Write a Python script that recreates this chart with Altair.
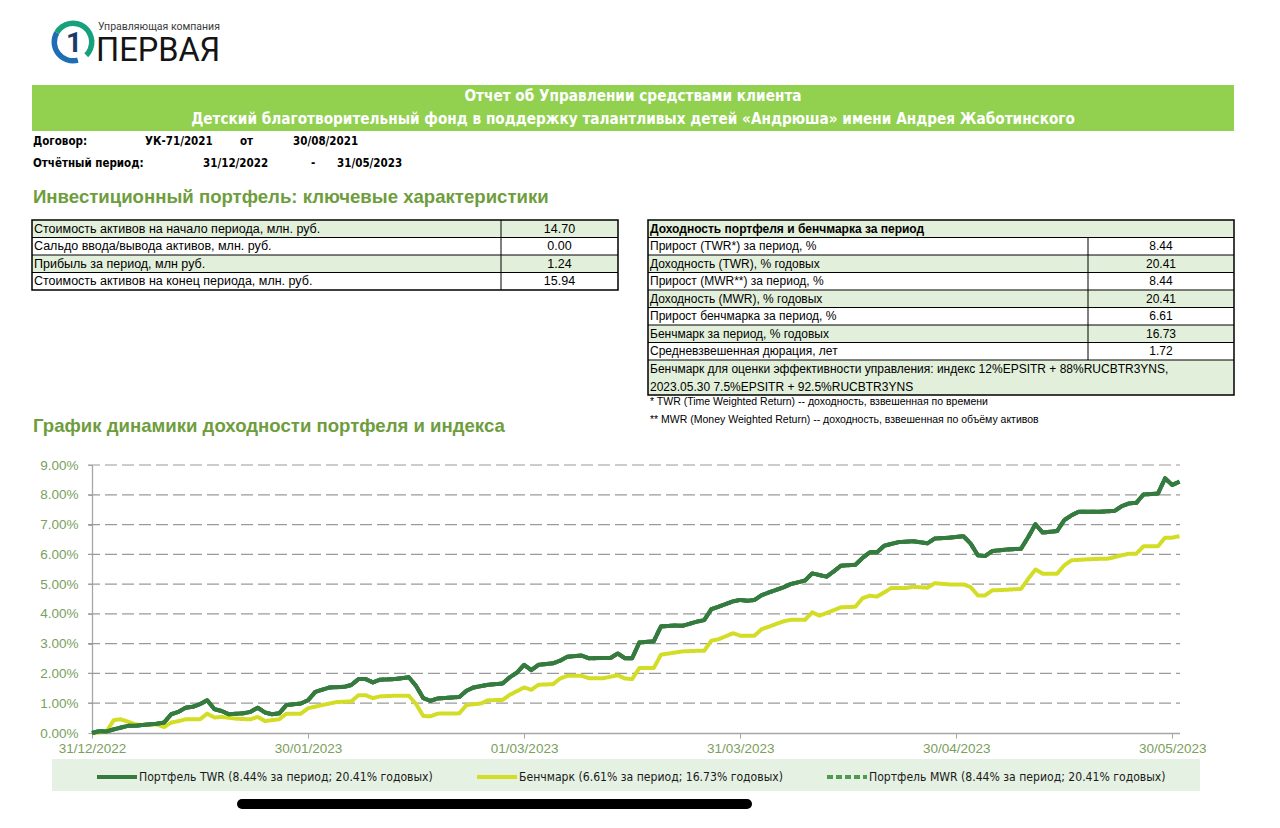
import altair as alt
import pandas as pd

# ------------------------------------------------------------------ data
START = "2022-12-31"  # day 0 of the report period (offsets below are days since this date)

twr_day = [0, 1, 2, 3, 5, 6, 7, 9, 10, 11, 12, 13, 14, 15, 16, 17, 18, 19, 21, 22, 23, 24, 25, 26, 27,
           29, 30, 31, 33, 35, 36, 37, 38, 39, 40, 42, 44, 45, 46, 47, 48, 51, 52, 53, 55, 57, 58, 59, 60,
           61, 62, 64, 65, 66, 68, 69, 71, 72, 73, 74, 75, 76, 78, 79, 81, 82, 84, 85, 86, 87, 89, 90, 91,
           92, 93, 94, 96, 97, 98, 99, 100, 102, 103, 104, 106, 107, 108, 109, 110, 112, 114, 116, 117,
           119, 121, 122, 123, 124, 125, 127, 129, 130, 131, 132, 134, 135, 136, 137, 140, 142, 143, 144,
           145, 146, 148, 149, 150, 151]
twr_pct = [0.00, 0.06, 0.05, 0.12, 0.24, 0.24, 0.27, 0.31, 0.35, 0.63, 0.71, 0.85, 0.88, 0.97, 1.10, 0.80,
           0.74, 0.63, 0.66, 0.71, 0.85, 0.69, 0.63, 0.66, 0.94, 0.99, 1.10, 1.38, 1.53, 1.55, 1.61, 1.81,
           1.81, 1.70, 1.79, 1.81, 1.87, 1.58, 1.17, 1.08, 1.16, 1.21, 1.42, 1.53, 1.62, 1.66, 1.87, 2.03,
           2.29, 2.11, 2.29, 2.34, 2.43, 2.56, 2.60, 2.51, 2.52, 2.52, 2.67, 2.51, 2.51, 3.04, 3.08, 3.58,
           3.61, 3.60, 3.74, 3.79, 4.16, 4.24, 4.42, 4.47, 4.44, 4.47, 4.63, 4.72, 4.89, 5.00, 5.06, 5.12,
           5.36, 5.25, 5.43, 5.62, 5.65, 5.88, 6.07, 6.07, 6.29, 6.41, 6.44, 6.37, 6.53, 6.56, 6.61, 6.36,
           5.97, 5.94, 6.11, 6.16, 6.19, 6.58, 7.01, 6.73, 6.78, 7.15, 7.31, 7.43, 7.43, 7.46, 7.62, 7.71,
           7.73, 8.01, 8.04, 8.55, 8.33, 8.44]

bench_day = [0, 2, 3, 4, 5, 6, 7, 9, 10, 11, 12, 13, 15, 16, 17, 18, 20, 22, 23, 24, 25, 26, 27, 29, 30,
             32, 34, 36, 37, 38, 39, 40, 42, 44, 45, 46, 47, 48, 51, 52, 54, 55, 57, 58, 60, 61, 62, 64, 65,
             66, 68, 69, 71, 73, 74, 75, 76, 78, 79, 82, 84, 85, 86, 87, 89, 90, 92, 93, 94, 96, 97, 99, 100,
             101, 102, 104, 106, 107, 108, 109, 111, 113, 114, 116, 117, 119, 121, 122, 123, 124, 125, 127,
             129, 130, 131, 132, 134, 135, 136, 138, 140, 141, 143, 144, 145, 146, 148, 149, 150, 151]
bench_pct = [0.00, 0.04, 0.43, 0.46, 0.38, 0.29, 0.27, 0.29, 0.20, 0.35, 0.40, 0.46, 0.46, 0.65, 0.52, 0.54,
             0.48, 0.46, 0.54, 0.40, 0.43, 0.46, 0.65, 0.65, 0.83, 0.94, 1.04, 1.06, 1.27, 1.27, 1.17, 1.23,
             1.25, 1.25, 0.97, 0.57, 0.56, 0.65, 0.66, 0.94, 0.99, 1.10, 1.11, 1.28, 1.53, 1.45, 1.62, 1.64,
             1.83, 1.92, 1.92, 1.84, 1.84, 1.94, 1.83, 1.81, 2.18, 2.18, 2.63, 2.74, 2.76, 2.76, 3.10, 3.15,
             3.35, 3.27, 3.27, 3.49, 3.57, 3.75, 3.80, 3.80, 4.05, 3.94, 4.03, 4.22, 4.24, 4.53, 4.61, 4.58,
             4.87, 4.87, 4.91, 4.88, 5.03, 4.99, 4.99, 4.90, 4.62, 4.62, 4.79, 4.81, 4.84, 5.18, 5.49, 5.35,
             5.35, 5.63, 5.80, 5.83, 5.85, 5.85, 5.97, 6.02, 6.02, 6.27, 6.27, 6.56, 6.56, 6.61]

# MWR coincides with TWR over the period (8.44% / 20.41%)
mwr_day = twr_day
mwr_pct = twr_pct

series_names = [
    "Портфель TWR (8.44% за период; 20.41% годовых)",
    "Бенчмарк (6.61% за период; 16.73% годовых)",
    "Портфель MWR (8.44% за период; 20.41% годовых)",
]
series_colors = ["#357A3E", "#D3DD26", "#4E9A4E"]
series_dash = [[1, 0], [1, 0], [6, 3]]

x_tick_dates = [(2022, 12, 31), (2023, 1, 30), (2023, 3, 1), (2023, 3, 31), (2023, 4, 30), (2023, 5, 30)]
x_end_date = (2023, 5, 31)
y_ticks = [0, 1, 2, 3, 4, 5, 6, 7, 8, 9]

logo_small = "Управляющая компания"
logo_big = "ПЕРВАЯ"
report_title = "Отчет об Управлении средствами клиента"
client_name = "Детский благотворительный фонд в поддержку талантливых детей «Андрюша» имени Андрея Жаботинского"
contract_row = ["Договор:", "УК-71/2021", "от", "30/08/2021"]
period_row = ["Отчётный период:", "31/12/2022", "-", "31/05/2023"]
portfolio_title = "Инвестиционный портфель: ключевые характеристики"
assets_labels = [
    "Стоимость активов на начало периода, млн. руб.",
    "Сальдо ввода/вывода активов, млн. руб.",
    "Прибыль  за период, млн руб.",
    "Стоимость активов на конец периода, млн. руб.",
]
assets_values = ["14.70", "0.00", "1.24", "15.94"]
returns_header = "Доходность портфеля и бенчмарка за период"
returns_labels = [
    "Прирост (TWR*) за период, %",
    "Доходность (TWR), % годовых",
    "Прирост (MWR**) за период, %",
    "Доходность (MWR), % годовых",
    "Прирост бенчмарка за период, %",
    "Бенчмарк за период, % годовых",
    "Средневзвешенная дюрация, лет",
]
returns_values = ["8.44", "20.41", "8.44", "20.41", "6.61", "16.73", "1.72"]
benchmark_note = [
    "Бенчмарк для оценки эффективности управления: индекс 12%EPSITR + 88%RUCBTR3YNS,",
    "2023.05.30 7.5%EPSITR + 92.5%RUCBTR3YNS",
]
footnotes = [
    "* TWR (Time Weighted Return) -- доходность, взвешенная по времени",
    "** MWR (Money Weighted Return) -- доходность, взвешенная по объёму активов",
]
chart_title = "График динамики доходности портфеля и индекса"

# ------------------------------------------------------------------ layout / style
W, H = 1264, 812
OFF = 8  # page margin


def px(x):
    return x - OFF


def py(y):
    return y - OFF


FONT = "'Liberation Sans', Arial, sans-serif"
NARROW = "'DejaVu Sans Condensed', 'Liberation Sans', sans-serif"
LOGO_FONT = "Roboto, 'Open Sans', sans-serif"
GREEN_TITLE = "#6E9D3E"
AXIS_GREEN = "#79A05C"
BAND = "#92D050"
ROW_FILL = "#E2EFDA"
AXIS_GRAY = "#A6A6A6"
GRID_GRAY = "#9A9A9A"

one = pd.DataFrame({"k": [0]})


def text(s, x, y, size=12, bold=False, color="#000000", align="left", font=FONT):
    return alt.Chart(one).mark_text(
        text=s, align=align, baseline="middle", fontSize=size,
        fontWeight="bold" if bold else "normal", color=color, font=font,
    ).encode(x=alt.value(px(x)), y=alt.value(py(y)))


def rect(x1, y1, x2, y2, fill):
    return alt.Chart(one).mark_rect(fill=fill).encode(
        x=alt.value(px(x1)), x2=alt.value(px(x2)), y=alt.value(py(y1)), y2=alt.value(py(y2)))


def frame_rect(x1, y1, x2, y2, width=1.5):
    return alt.Chart(one).mark_rect(fill="transparent", stroke="#000000", strokeWidth=width).encode(
        x=alt.value(px(x1)), x2=alt.value(px(x2)), y=alt.value(py(y1)), y2=alt.value(py(y2)))


def hline(x1, x2, y, color="#000000", width=1.0, cap="butt"):
    return alt.Chart(one).mark_rule(color=color, strokeWidth=width, strokeCap=cap).encode(
        x=alt.value(px(x1)), x2=alt.value(px(x2)), y=alt.value(py(y)))


def vline(x, y1, y2, color="#000000", width=1.0):
    return alt.Chart(one).mark_rule(color=color, strokeWidth=width).encode(
        x=alt.value(px(x)), y=alt.value(py(y1)), y2=alt.value(py(y2)))


def arc(cx, cy, r1, r2, t1, t2, color):
    return alt.Chart(one).mark_arc(radius=r1, radius2=r2, theta=t1, theta2=t2, color=color).encode(
        x=alt.value(px(cx)), y=alt.value(py(cy)))


deco = []

# logo
deco.append(arc(73, 42, 21.5, 16, 2.88, 5.24, "#1F6DB3"))
deco.append(arc(73, 42, 21.5, 16, 5.24, 8.64, "#16A07C"))
deco.append(text("1", 74, 44, size=28, bold=True, color="#1B3C6B", align="center", font=LOGO_FONT))
deco.append(text(logo_small, 98, 27, size=10.5, color="#3A3A3A", font=LOGO_FONT))
deco.append(text(logo_big, 96, 50.5, size=32.5, color="#141414", font=LOGO_FONT))

# title band
deco.append(rect(32, 85, 1234, 131, BAND))
deco.append(text(report_title, 633, 96, size=15.2, bold=True, color="#FFFFFF", align="center", font=NARROW))
deco.append(text(client_name, 633, 119, size=15.2, bold=True, color="#FFFFFF", align="center", font=NARROW))

# contract / period
for s, x in zip(contract_row, [33, 145, 240, 293]):
    deco.append(text(s, x, 142, size=11.5, bold=True, font=NARROW))
for s, x in zip(period_row, [33, 203, 311, 337]):
    deco.append(text(s, x, 164, size=11.5, bold=True, font=NARROW))

deco.append(text(portfolio_title, 33, 197, size=18.6, bold=True, color=GREEN_TITLE))

# left table
lt_x1, lt_x2, lt_div = 32, 618, 501
lt_rows = [220, 237.5, 255, 272.5, 290]
for i in range(4):
    if i % 2 == 0:
        deco.append(rect(lt_x1, lt_rows[i], lt_x2, lt_rows[i + 1], ROW_FILL))
for i, (lab, val) in enumerate(zip(assets_labels, assets_values)):
    yc = (lt_rows[i] + lt_rows[i + 1]) / 2
    deco.append(text(lab, 34, yc, size=12.5))
    deco.append(text(val, (lt_div + lt_x2) / 2, yc, size=12.5, align="center"))
for yb in lt_rows[1:-1]:
    deco.append(hline(lt_x1, lt_x2, yb))
deco.append(vline(lt_div, lt_rows[0], lt_rows[-1]))
deco.append(frame_rect(lt_x1, lt_rows[0], lt_x2, lt_rows[-1]))

# right table
rt_x1, rt_x2, rt_div = 648, 1234, 1088
rt_rows = [220, 237.5, 255, 272.5, 290, 307.5, 325, 342.5, 360, 395]
for i in range(9):
    if i % 2 == 0:
        deco.append(rect(rt_x1, rt_rows[i], rt_x2, rt_rows[i + 1], ROW_FILL))
deco.append(text(returns_header, 650, (rt_rows[0] + rt_rows[1]) / 2, size=12, bold=True))
for i, (lab, val) in enumerate(zip(returns_labels, returns_values)):
    yc = (rt_rows[i + 1] + rt_rows[i + 2]) / 2
    deco.append(text(lab, 650, yc, size=12))
    deco.append(text(val, (rt_div + rt_x2) / 2, yc, size=12, align="center"))
deco.append(text(benchmark_note[0], 650, 368.5, size=12))
deco.append(text(benchmark_note[1], 650, 386.5, size=12))
for yb in rt_rows[1:-1]:
    deco.append(hline(rt_x1, rt_x2, yb))
deco.append(vline(rt_div, rt_rows[1], rt_rows[-2]))
deco.append(frame_rect(rt_x1, rt_rows[0], rt_x2, rt_rows[-1]))

deco.append(text(footnotes[0], 650, 402, size=10.5))
deco.append(text(footnotes[1], 650, 420, size=10.5))

deco.append(text(chart_title, 33, 426, size=18.6, bold=True, color=GREEN_TITLE))

# legend background
deco.append(rect(52, 759, 1200, 791, "#E5F1E3"))

# ------------------------------------------------------------------ chart
base = pd.Timestamp(START)


def series_frame(days, vals, name):
    return pd.DataFrame({
        "date": [base + pd.Timedelta(days=d) for d in days],
        "value": vals,
        "series": name,
    })


long_df = pd.concat([
    series_frame(mwr_day, mwr_pct, series_names[2]),
    series_frame(bench_day, bench_pct, series_names[1]),
    series_frame(twr_day, twr_pct, series_names[0]),
], ignore_index=True)
twr_df = series_frame(twr_day, twr_pct, series_names[0])
grid_df = pd.DataFrame({"value": y_ticks[1:]})

x_scale = alt.Scale(
    domain=[alt.DateTime(year=2022, month=12, date=31),
            alt.DateTime(year=x_end_date[0], month=x_end_date[1], date=x_end_date[2])],
    range=[px(92), px(1179.5)],
)
y_scale = alt.Scale(domain=[0, 9], range=[py(733), py(465)], nice=False, zero=False)

x_axis = alt.Axis(
    values=[alt.DateTime(year=a, month=b, date=c) for a, b, c in x_tick_dates],
    format="%d/%m/%Y", orient="bottom", offset=py(733) - H, title=None, grid=False,
    domainColor=AXIS_GRAY, domainWidth=1.3, tickColor=AXIS_GRAY, tickSize=5, labelColor=AXIS_GREEN,
    labelFont=FONT, labelFontSize=13.5, labelPadding=3, labelOverlap=False, labelFlush=False,
)
y_axis = alt.Axis(
    values=y_ticks, labelExpr="format(datum.value, '.2f') + '%'", orient="left", offset=-px(92),
    title=None, grid=False, domainColor=AXIS_GRAY, domainWidth=1.3, tickColor=AXIS_GRAY, tickSize=4,
    labelPadding=10, labelColor=AXIS_GREEN, labelFont=FONT, labelFontSize=13.5,
)

X = alt.X("date:T", scale=x_scale, axis=x_axis)
Y = alt.Y("value:Q", scale=y_scale, axis=y_axis)

legend = alt.Legend(
    title=None, orient="none", legendX=px(95), legendY=py(755), direction="horizontal",
    symbolType="stroke", symbolSize=1600, symbolStrokeWidth=4, labelFont=NARROW, labelFontSize=12.1,
    labelColor="#1A1A1A", labelLimit=600, columnPadding=36, labelOffset=0, padding=0,
)

grid = alt.Chart(grid_df).mark_rule(color=GRID_GRAY, strokeWidth=1.2, strokeDash=[12, 5]).encode(
    y=Y, x=alt.value(px(88)), x2=alt.value(px(1180)))

lines = alt.Chart(long_df).mark_line(strokeWidth=4, strokeJoin="round").encode(
    x=X, y=Y,
    color=alt.Color("series:N", scale=alt.Scale(domain=series_names, range=series_colors), legend=legend),
    strokeDash=alt.StrokeDash("series:N", scale=alt.Scale(domain=series_names, range=series_dash),
                              legend=legend),
)

twr_top = alt.Chart(twr_df).mark_line(strokeWidth=4, strokeJoin="round", color=series_colors[0]).encode(
    x=X, y=Y)

home_bar = hline(242, 747, 804, color="#000000", width=10, cap="round")

chart = alt.layer(*deco, grid, lines, twr_top, home_bar).properties(
    width=W, height=H, padding=0, autosize=alt.AutoSizeParams(type="none"),
    background="#FFFFFF",
).configure_view(stroke=None)

chart.save("out.html", embed_options={"renderer": "svg", "actions": False})
